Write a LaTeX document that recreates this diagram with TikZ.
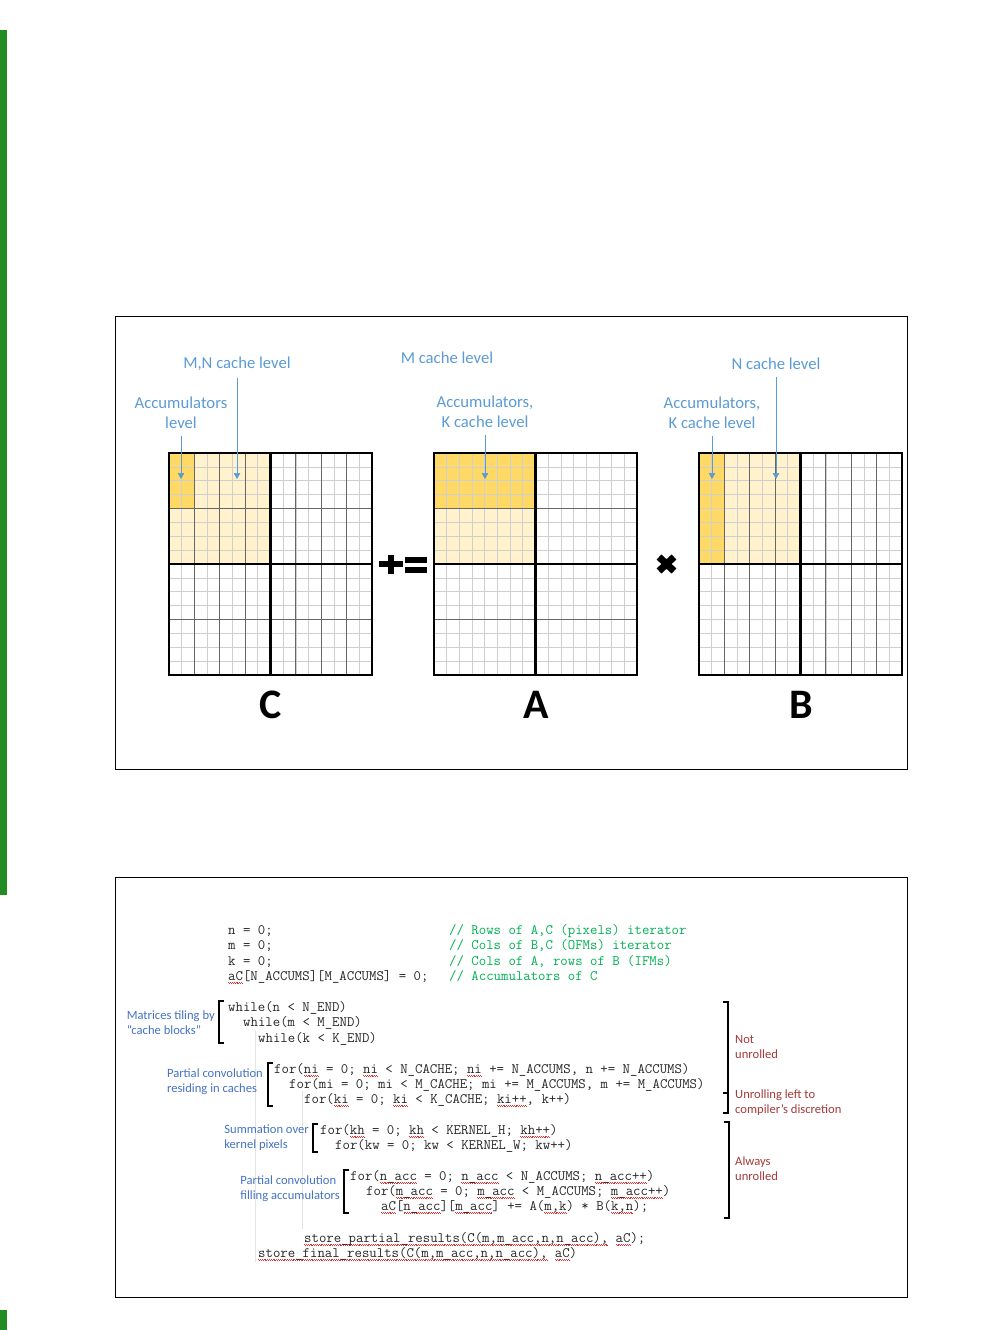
\documentclass[tikz,border=0pt]{standalone}
\usepackage{fontspec}
\setmainfont{Carlito}
\usetikzlibrary{arrows.meta}

\definecolor{lvlblue}{HTML}{5B9BD5}
\definecolor{tagblue}{HTML}{4472C4}
\definecolor{hotgold}{HTML}{FFD966}
\definecolor{warmgold}{HTML}{FFF2CC}
\definecolor{cmtgreen}{HTML}{00B050}
\definecolor{notered}{HTML}{A5393A}
\definecolor{sqred}{HTML}{E03030}
\definecolor{bargreen}{HTML}{228B22}

% red wavy spell-check underline
\newcommand\sq[1]{\setbox0\hbox{#1}%
  \rlap{\color{sqred}\hbox to\wd0{\xleaders\hbox{%
    \raise-3pt\hbox{\vrule width0.9pt height0.6pt depth0pt}%
    \raise-3.9pt\hbox{\vrule width0.9pt height0.6pt depth0pt}}\hfil}}#1}

\begin{document}
\begin{tikzpicture}[x=1pt, y=-1pt,
    lvl/.style={font=\fontsize{16.7}{20}\selectfont, text=lvlblue,
        align=center, inner sep=0pt},
    pointer/.style={lvlblue, line width=0.7pt,
        -{Triangle[width=6.5pt,length=6pt]}, shorten <=7pt},
    fine/.style={gray!38, line width=0.7pt},
    mid/.style={black!60, line width=1.1pt},
    frame/.style={black, line width=2.3pt},
    mname/.style={font=\fontsize{42}{42}\selectfont\bfseries, inner sep=0pt},
    panel/.style={black, line width=0.8pt},
    code/.style={font=\ttfamily\fontsize{14.4}{15.3}\selectfont,
        anchor=base west, inner sep=0pt, text=black!85},
    cmt/.style={code, text=cmtgreen},
    tag/.style={font=\fontsize{12.6}{15}\selectfont, text=tagblue,
        align=left, anchor=east, inner sep=0pt},
    note/.style={font=\fontsize{12.6}{15}\selectfont, text=notered,
        align=left, anchor=west, inner sep=0pt},
    brk/.style={black, line width=1.3pt},
    guide/.style={gray!22, line width=0.6pt}
  ]
  \useasboundingbox (0,0) rectangle (980,1330);

  % green margin bar
  \fill[bargreen] (0,30) rectangle (7,895);
  \fill[bargreen] (0,1310) rectangle (7,1330);

  % panel frames
  \draw[panel] (115.5,316.5) rectangle (907.5,769.5);
  \draw[panel] (115.5,877.5) rectangle (907.5,1297.5);

  % Matrix C
  \begin{scope}[shift={(169pt,-453pt)}, x=12.6875pt, y=-13.875pt]
    \fill[warmgold] (0,0) rectangle (8,8);
    \fill[hotgold]  (0,0) rectangle (2,4);
    \foreach \i in {1,...,15} {
      \draw[fine] (\i,0) -- (\i,16);
      \draw[fine] (0,\i) -- (16,\i);
    }
    \foreach \i in {2,4,6,10,12,14} \draw[mid] (\i,0) -- (\i,16);
    \foreach \j in {4,12} \draw[mid] (0,\j) -- (16,\j);
    \draw[frame] (0,0) rectangle (16,16) (8,0) -- (8,16) (0,8) -- (16,8);
  \end{scope}

  % Matrix A
  \begin{scope}[shift={(434pt,-453pt)}, x=12.6875pt, y=-13.875pt]
    \fill[hotgold]  (0,0) rectangle (8,4);
    \fill[warmgold] (0,4) rectangle (8,8);
    \foreach \i in {1,...,15} {
      \draw[fine] (\i,0) -- (\i,16);
      \draw[fine] (0,\i) -- (16,\i);
    }
    \foreach \j in {4,12} \draw[mid] (0,\j) -- (16,\j);
    \draw[frame] (0,0) rectangle (16,16) (8,0) -- (8,16) (0,8) -- (16,8);
  \end{scope}

  % Matrix B
  \begin{scope}[shift={(699pt,-453pt)}, x=12.6875pt, y=-13.875pt]
    \fill[hotgold]  (0,0) rectangle (2,8);
    \fill[warmgold] (2,0) rectangle (8,8);
    \foreach \i in {1,...,15} {
      \draw[fine] (\i,0) -- (\i,16);
      \draw[fine] (0,\i) -- (16,\i);
    }
    \foreach \i in {2,4,6,10,12,14} \draw[mid] (\i,0) -- (\i,16);
    \draw[frame] (0,0) rectangle (16,16) (8,0) -- (8,16) (0,8) -- (16,8);
  \end{scope}

  % cache level labels
  \node[lvl] (cmn)  at (237,364) {M,N cache level};
  \node[lvl] (cacc) at (181,413) {Accumulators\\level};
  \node[lvl] (amlv) at (447,358) {M cache level};
  \node[lvl] (aacc) at (485,412) {Accumulators,\\K cache level};
  \node[lvl] (bnlv) at (776,364) {N cache level};
  \node[lvl] (bacc) at (712,413) {Accumulators,\\K cache level};

  \coordinate (cmntip)  at (237,479);
  \coordinate (cacctip) at (181,479);
  \coordinate (aacctip) at (485,479);
  \coordinate (bnlvtip) at (776,479);
  \coordinate (bacctip) at (712,479);

  \draw[pointer] (cmn)  -- (cmntip);
  \draw[pointer] (cacc) -- (cacctip);
  \draw[pointer] (aacc) -- (aacctip);
  \draw[pointer] (bnlv) -- (bnlvtip);
  \draw[pointer] (bacc) -- (bacctip);

  % operators
  \fill (379,561) rectangle (403,567);
  \fill (388,555) rectangle (394,574);
  \fill (405,556.5) rectangle (427,562.5);
  \fill (405,566.5) rectangle (427,572.5);
  \draw[line width=7pt] (659,557) -- (674,571) (674,557) -- (659,571);

  % matrix names
  \node[mname] (cname) at (271,705) {C};
  \node[mname] (aname) at (536,705) {A};
  \node[mname] (bname) at (801,705) {B};

  % code: initialisation
  \node[code] (initn)  at (228,934) {n = 0;};
  \node[code] (initm)  at (228,949) {m = 0;};
  \node[code] (initk)  at (228,965) {k = 0;};
  \node[code] (initac) at (228,980) {\sq{aC}[N\_ACCUMS][M\_ACCUMS] = 0;};
  \node[cmt] (cmtn)  at (449,934) {// Rows of A,C (pixels) iterator};
  \node[cmt] (cmtm)  at (449,949) {// Cols of B,C (OFMs) iterator};
  \node[cmt] (cmtk)  at (449,965) {// Cols of A, rows of B (IFMs)};
  \node[cmt] (cmtac) at (449,980) {// Accumulators of C};

  % code: loops
  \node[code] (wn)  at (228,1011) {while(n < N\_END)};
  \node[code] (wm)  at (243,1026) {while(m < M\_END)};
  \node[code] (wk)  at (258,1042) {while(k < K\_END)};
  \node[code] (fni) at (274,1073) {for(\sq{ni} = 0; \sq{ni} < N\_CACHE; \sq{ni} += N\_ACCUMS, n += N\_ACCUMS)};
  \node[code] (fmi) at (289,1088) {for(mi = 0; mi < M\_CACHE; mi += M\_ACCUMS, m += M\_ACCUMS)};
  \node[code] (fki) at (304,1103) {for(\sq{ki} = 0; \sq{ki} < K\_CACHE; \sq{ki++}, k++)};
  \node[code] (fkh) at (320,1134) {for(\sq{kh} = 0; \sq{kh} < KERNEL\_H; \sq{kh++})};
  \node[code] (fkw) at (335,1149) {for(kw = 0; kw < KERNEL\_W; kw++)};
  \node[code] (fna) at (350,1180) {for(\sq{n\_acc} = 0; \sq{n\_acc} < N\_ACCUMS; \sq{n\_acc++})};
  \node[code] (fma) at (366,1195) {for(\sq{m\_acc} = 0; \sq{m\_acc} < M\_ACCUMS; \sq{m\_acc++})};
  \node[code] (acc) at (381,1210) {\sq{aC}[\sq{n\_acc}][\sq{m\_acc}] += A(\sq{m,k}) * B(\sq{k,n});};
  \node[code] (spr) at (304,1242) {\sq{store\_partial\_results(C(m,m\_acc,n,n\_acc),} \sq{aC});};
  \node[code] (sfr) at (258,1257) {\sq{store\_final\_results(C(m,m\_acc,n,n\_acc),} \sq{aC})};

  % indent guides
  \draw[guide] (255,1030) -- (255,1262);
  \draw[guide] (302,1091) -- (302,1229);

  % left brackets and their tags
  \draw[brk] (224,1001) -- (219,1001) -- (219,1043) -- (224,1043);
  \draw[brk] (273,1063) -- (268,1063) -- (268,1106) -- (273,1106);
  \draw[brk] (318,1124) -- (313,1124) -- (313,1152) -- (318,1152);
  \draw[brk] (349,1170) -- (344,1170) -- (344,1213) -- (349,1213);
  \node[tag] (ttile) at (215,1023) {Matrices tiling by\\“cache blocks”};
  \node[tag] (tres)  at (263,1082) {Partial convolution\\residing  in caches};
  \node[tag] (tsum)  at (309,1138) {Summation over\\kernel pixels};
  \node[tag] (tfill) at (340,1189) {Partial convolution\\filling accumulators};

  % right brackets and unrolling notes
  \draw[brk] (723,1002) -- (728,1002) -- (728,1113) -- (723,1113);
  \draw[brk] (723,1093) -- (728,1093);
  \draw[brk] (724,1122) -- (729,1122) -- (729,1218) -- (724,1218);
  \node[note] (nnot) at (735,1047) {Not\\unrolled};
  \node[note] (nopt) at (735,1103) {Unrolling left to\\compiler’s discretion};
  \node[note] (nall) at (735,1169) {Always\\unrolled};
\end{tikzpicture}
\end{document}
